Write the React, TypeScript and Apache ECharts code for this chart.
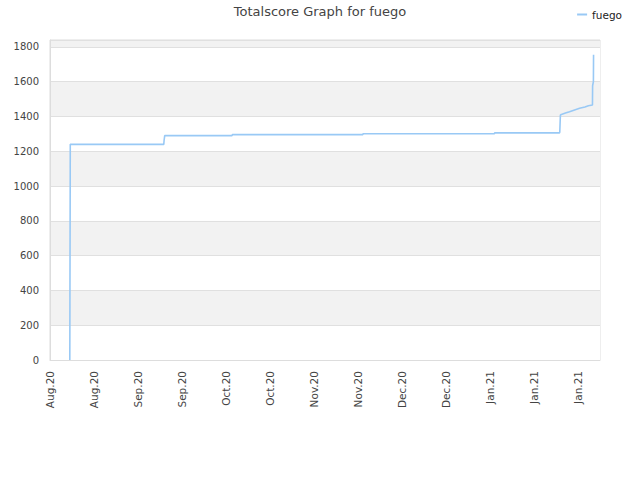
import React, { useEffect, useRef } from "react";
import * as echarts from "echarts";

// Days since 2020-08-16 and total score
const days: number[] = [6.3, 6.35, 6.4, 6.45, 36.2, 36.3, 36.5, 57.9, 58.0, 99.5, 99.6, 141.4, 141.5, 162.1, 162.2, 162.4, 162.7, 164.0, 165.3, 166.9, 168.5, 170.2, 171.3, 172.6, 172.65, 172.9, 172.95];
const scores: number[] = [0, 414, 793, 1240, 1240, 1262, 1290, 1290, 1296, 1296, 1301, 1301, 1306, 1306, 1310, 1409, 1412, 1420, 1428, 1438, 1447, 1455, 1462, 1466, 1577, 1600, 1755];
const seriesName = "fuego";
const titleText = "Totalscore Graph for fuego";
const monthNames: string[] = ["Jan", "Feb", "Mar", "Apr", "May", "Jun", "Jul", "Aug", "Sep", "Oct", "Nov", "Dec"];
const baseDate = Date.UTC(2020, 7, 16);

export default function App() {
  const ref = useRef<HTMLDivElement>(null);
  useEffect(() => {
    if (!ref.current) return;
    const chart = echarts.init(ref.current, null, { renderer: "svg" });
    const font = "DejaVu Sans";
    chart.setOption({
      animation: false,
      textStyle: { fontFamily: font },
      title: {
        text: titleText,
        left: "center",
        top: 5,
        padding: 0,
        textStyle: { fontFamily: font, fontSize: 13, fontWeight: "normal", color: "#444" },
      },
      legend: {
        right: 18,
        top: 9,
        padding: 0,
        icon: "rect",
        itemWidth: 10,
        itemHeight: 2,
        itemGap: 5,
        textStyle: { fontFamily: font, fontSize: 10.5, color: "#222" },
        data: [seriesName],
      },
      grid: { left: 50, right: 40, top: 40, bottom: 120, show: true, borderColor: "#dddddd", borderWidth: 1, backgroundColor: "transparent" },
      xAxis: {
        type: "value",
        min: 0,
        max: 175,
        interval: 14,
        axisLine: { show: true, lineStyle: { color: "#dddddd" } },
        axisTick: { show: false },
        splitLine: { show: false },
        axisLabel: {
          rotate: 90,
          fontFamily: font,
          fontSize: 10.5,
          color: "#444",
          margin: 11,
          showMaxLabel: false,
          formatter: (v: number) => {
            const d = new Date(baseDate + v * 86400000);
            return monthNames[d.getUTCMonth()] + "." + String(d.getUTCFullYear()).slice(2);
          },
        },
      },
      yAxis: {
        type: "value",
        min: 0,
        max: 1840,
        interval: 200,
        axisLine: { show: true, lineStyle: { color: "#dddddd" } },
        axisTick: { show: false },
        axisLabel: { fontFamily: font, fontSize: 10, color: "#444", showMaxLabel: false, margin: 11, formatter: (v: number) => String(v) },
        splitLine: { show: true, lineStyle: { color: "#e0e0e0" } },
        splitArea: { show: true, areaStyle: { color: ["#ffffff", "#f2f2f2"] } },
      },
      series: [
        {
          name: seriesName,
          type: "line",
          data: days.map((d, i) => [d, scores[i]]),
          showSymbol: false,
          symbol: "none",
          lineStyle: { color: "#99c9f5", width: 1.6 },
          itemStyle: { color: "#99c9f5" },
        },
      ],
    });
    return () => chart.dispose();
  }, []);
  return <div ref={ref} style={{ position: "absolute", left: 0, top: 0, width: 640, height: 480 }} />;
}
